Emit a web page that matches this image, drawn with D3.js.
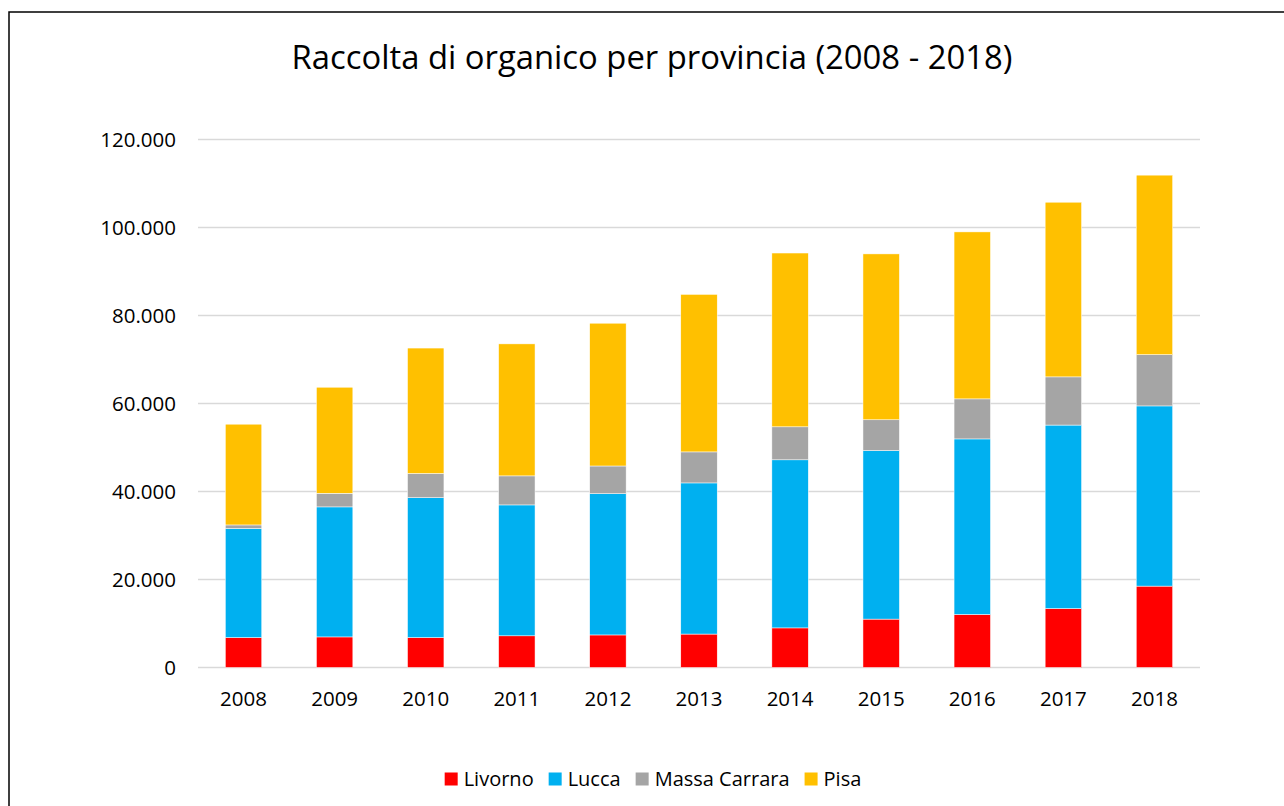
<!DOCTYPE html>
<html lang="it">
<head>
<meta charset="UTF-8">
<title>Raccolta di organico per provincia</title>
<script src="https://cdn.jsdelivr.net/npm/d3@7"></script>
<style>
  body { margin: 0; background: #fff; }
  svg text { font-family: "Open Sans", "Noto Sans", sans-serif; fill: #000; }
</style>
</head>
<body>
<div id="chart"></div>
<script>
// dati (tonnellate)
const years = ["2008", "2009", "2010", "2011", "2012", "2013", "2014", "2015", "2016", "2017", "2018"]
const provinces = ["Livorno", "Lucca", "Massa Carrara", "Pisa"]
const livorno = [6800, 6950, 6800, 7200, 7400, 7600, 9000, 11000, 12050, 13400, 18500]
const lucca = [24800, 29550, 31800, 29750, 32100, 34350, 38200, 38300, 39900, 41700, 40950]
const massaCarrara = [800, 3100, 5500, 6600, 6300, 7050, 7500, 7000, 9100, 10950, 11650]
const pisa = [22900, 24100, 28500, 30000, 32450, 35800, 39500, 37700, 37950, 39700, 40800]
const yTicks = [0, 20000, 40000, 60000, 80000, 100000, 120000]
const colors = ["#FF0000", "#00B0F0", "#A5A5A5", "#FFC000"]

const w = 1284
const h = 806

const svg = d3.select("#chart").append("svg")
    .attr("width", w)
    .attr("height", h)

// cornice del grafico (tagliata a destra e in basso)
svg.append("rect")
    .attr("x", 9).attr("y", 12)
    .attr("width", w + 20).attr("height", h + 20)
    .attr("fill", "none")
    .attr("stroke", "#000")
    .attr("stroke-width", 1.5)

const rows = years.map((y, i) => ({
    year: y,
    "Livorno": livorno[i],
    "Lucca": lucca[i],
    "Massa Carrara": massaCarrara[i],
    "Pisa": pisa[i]
}))

const series = d3.stack().keys(provinces)(rows)

const x = d3.scaleBand()
    .domain(years)
    .range([198, 1200])
    .paddingInner(0.6)
    .paddingOuter(0.3)

const y = d3.scaleLinear()
    .domain([0, 120000])
    .range([667.5, 139.5])

const fmt = v => v === 0 ? "0" : d3.format(",")(v).replace(/,/g, ".")

// griglia
svg.append("g")
    .selectAll("line")
    .data(yTicks)
    .join("line")
    .attr("x1", 198).attr("x2", 1200)
    .attr("y1", d => y(d)).attr("y2", d => y(d))
    .attr("stroke", "#d9d9d9")
    .attr("stroke-width", 1.5)

// barre
svg.append("g")
    .selectAll("g")
    .data(series)
    .join("g")
    .attr("fill", (d, i) => colors[i])
    .selectAll("rect")
    .data(d => d)
    .join("rect")
    .attr("x", d => x(d.data.year))
    .attr("y", d => y(d[1]))
    .attr("width", x.bandwidth())
    .attr("height", d => y(d[0]) - y(d[1]))
    .attr("stroke", "#fff")
    .attr("stroke-width", 0.5)

// asse y
const yAxis = svg.append("g")
    .attr("transform", "translate(176,0)")
    .call(d3.axisLeft(y).tickValues(yTicks).tickFormat(fmt).tickSize(0).tickPadding(0))
yAxis.select(".domain").remove()
yAxis.selectAll("text")
    .style("font-size", "20.5px")
    .attr("font-family", null)
    .attr("dy", "0.35em")

// asse x
const xAxis = svg.append("g")
    .attr("transform", "translate(0,667.5)")
    .call(d3.axisBottom(x).tickSize(0).tickPadding(0))
xAxis.select(".domain").remove()
xAxis.selectAll("text")
    .style("font-size", "20.5px")
    .attr("font-family", null)
    .attr("dy", null)
    .attr("y", 38)

// titolo
svg.append("text")
    .attr("x", 652)
    .attr("y", 69)
    .attr("text-anchor", "middle")
    .style("font-size", "32.8px")
    .text("Raccolta di organico per provincia (2008 - 2018)")

// legenda
const legend = svg.append("g")
const items = legend.selectAll("g")
    .data(provinces)
    .join("g")
items.append("rect")
    .attr("width", 13).attr("height", 13)
    .attr("y", -13.5)
    .attr("fill", (d, i) => colors[i])
items.append("text")
    .attr("x", 19)
    .attr("y", 0)
    .style("font-size", "20px")
    .text(d => d)

let offset = 0
items.each(function () {
    const g = d3.select(this)
    g.attr("transform", `translate(${offset},0)`)
    offset += 19 + g.select("text").node().getComputedTextLength() + 15
})
offset -= 15
legend.attr("transform", `translate(${653 - offset / 2},786)`)
</script>
</body>
</html>
